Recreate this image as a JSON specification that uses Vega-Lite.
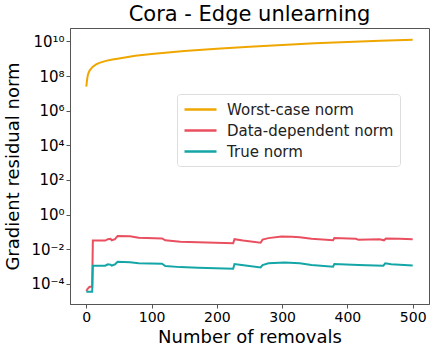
{
  "$schema": "https://vega.github.io/schema/vega-lite/v6.json",
  "width": 359,
  "height": 276,
  "autosize": "none",
  "padding": {"left": 70, "top": 28, "right": 7, "bottom": 45},
  "title": {"text": "Cora - Edge unlearning", "fontSize": 21, "font": "DejaVu Sans", "fontWeight": "normal", "color": "#000", "offset": 3},
  "config": {
    "font": "DejaVu Sans",
    "view": {"stroke": "#555", "strokeWidth": 1},
    "axis": {"grid": false, "domainColor": "#555", "tickColor": "#555", "labelColor": "#000", "titleColor": "#000", "labelFont": "DejaVu Sans", "titleFont": "DejaVu Sans", "titleFontWeight": "normal"}
  },
  "data": {"values": [
    {"x": 0, "v": 2.5e7, "s": "Worst-case norm"},
    {"x": 1, "v": 5.5e7, "s": "Worst-case norm"},
    {"x": 2, "v": 1.0e8, "s": "Worst-case norm"},
    {"x": 3, "v": 1.4e8, "s": "Worst-case norm"},
    {"x": 5, "v": 2.1e8, "s": "Worst-case norm"},
    {"x": 8, "v": 2.9e8, "s": "Worst-case norm"},
    {"x": 10, "v": 3.5e8, "s": "Worst-case norm"},
    {"x": 15, "v": 4.7e8, "s": "Worst-case norm"},
    {"x": 20, "v": 5.8e8, "s": "Worst-case norm"},
    {"x": 30, "v": 7.6e8, "s": "Worst-case norm"},
    {"x": 40, "v": 9.0e8, "s": "Worst-case norm"},
    {"x": 50, "v": 1.05e9, "s": "Worst-case norm"},
    {"x": 75, "v": 1.5e9, "s": "Worst-case norm"},
    {"x": 100, "v": 1.9e9, "s": "Worst-case norm"},
    {"x": 150, "v": 2.8e9, "s": "Worst-case norm"},
    {"x": 200, "v": 3.8e9, "s": "Worst-case norm"},
    {"x": 250, "v": 5.0e9, "s": "Worst-case norm"},
    {"x": 300, "v": 6.3e9, "s": "Worst-case norm"},
    {"x": 350, "v": 7.8e9, "s": "Worst-case norm"},
    {"x": 400, "v": 9.3e9, "s": "Worst-case norm"},
    {"x": 450, "v": 1.1e10, "s": "Worst-case norm"},
    {"x": 500, "v": 1.27e10, "s": "Worst-case norm"},

    {"x": 0, "v": 3.9e-5, "s": "Data-dependent norm"},
    {"x": 2, "v": 5.2e-5, "s": "Data-dependent norm"},
    {"x": 5, "v": 6.8e-5, "s": "Data-dependent norm"},
    {"x": 9, "v": 6.8e-5, "s": "Data-dependent norm"},
    {"x": 10, "v": 0.0316, "s": "Data-dependent norm"},
    {"x": 29, "v": 0.0316, "s": "Data-dependent norm"},
    {"x": 33, "v": 0.038, "s": "Data-dependent norm"},
    {"x": 37, "v": 0.040, "s": "Data-dependent norm"},
    {"x": 39, "v": 0.033, "s": "Data-dependent norm"},
    {"x": 44, "v": 0.038, "s": "Data-dependent norm"},
    {"x": 48, "v": 0.059, "s": "Data-dependent norm"},
    {"x": 67, "v": 0.056, "s": "Data-dependent norm"},
    {"x": 80, "v": 0.046, "s": "Data-dependent norm"},
    {"x": 116, "v": 0.042, "s": "Data-dependent norm"},
    {"x": 121, "v": 0.033, "s": "Data-dependent norm"},
    {"x": 144, "v": 0.0275, "s": "Data-dependent norm"},
    {"x": 171, "v": 0.0257, "s": "Data-dependent norm"},
    {"x": 225, "v": 0.0224, "s": "Data-dependent norm"},
    {"x": 227, "v": 0.038, "s": "Data-dependent norm"},
    {"x": 240, "v": 0.0316, "s": "Data-dependent norm"},
    {"x": 267, "v": 0.024, "s": "Data-dependent norm"},
    {"x": 270, "v": 0.036, "s": "Data-dependent norm"},
    {"x": 279, "v": 0.044, "s": "Data-dependent norm"},
    {"x": 299, "v": 0.054, "s": "Data-dependent norm"},
    {"x": 315, "v": 0.052, "s": "Data-dependent norm"},
    {"x": 327, "v": 0.050, "s": "Data-dependent norm"},
    {"x": 345, "v": 0.040, "s": "Data-dependent norm"},
    {"x": 378, "v": 0.033, "s": "Data-dependent norm"},
    {"x": 380, "v": 0.044, "s": "Data-dependent norm"},
    {"x": 413, "v": 0.040, "s": "Data-dependent norm"},
    {"x": 417, "v": 0.035, "s": "Data-dependent norm"},
    {"x": 449, "v": 0.038, "s": "Data-dependent norm"},
    {"x": 456, "v": 0.033, "s": "Data-dependent norm"},
    {"x": 459, "v": 0.042, "s": "Data-dependent norm"},
    {"x": 480, "v": 0.040, "s": "Data-dependent norm"},
    {"x": 500, "v": 0.038, "s": "Data-dependent norm"},

    {"x": 0, "v": 3.5e-5, "s": "True norm"},
    {"x": 9, "v": 3.5e-5, "s": "True norm"},
    {"x": 10, "v": 0.00112, "s": "True norm"},
    {"x": 29, "v": 0.00112, "s": "True norm"},
    {"x": 33, "v": 0.00135, "s": "True norm"},
    {"x": 37, "v": 0.0013, "s": "True norm"},
    {"x": 39, "v": 0.00115, "s": "True norm"},
    {"x": 44, "v": 0.00135, "s": "True norm"},
    {"x": 48, "v": 0.0019, "s": "True norm"},
    {"x": 67, "v": 0.00178, "s": "True norm"},
    {"x": 80, "v": 0.00158, "s": "True norm"},
    {"x": 116, "v": 0.00145, "s": "True norm"},
    {"x": 121, "v": 0.00107, "s": "True norm"},
    {"x": 144, "v": 0.00093, "s": "True norm"},
    {"x": 171, "v": 0.00085, "s": "True norm"},
    {"x": 225, "v": 0.00074, "s": "True norm"},
    {"x": 227, "v": 0.0014, "s": "True norm"},
    {"x": 238, "v": 0.00123, "s": "True norm"},
    {"x": 267, "v": 0.00089, "s": "True norm"},
    {"x": 270, "v": 0.00123, "s": "True norm"},
    {"x": 279, "v": 0.00155, "s": "True norm"},
    {"x": 304, "v": 0.00174, "s": "True norm"},
    {"x": 327, "v": 0.00155, "s": "True norm"},
    {"x": 345, "v": 0.00123, "s": "True norm"},
    {"x": 378, "v": 0.00098, "s": "True norm"},
    {"x": 380, "v": 0.0014, "s": "True norm"},
    {"x": 417, "v": 0.00123, "s": "True norm"},
    {"x": 455, "v": 0.00112, "s": "True norm"},
    {"x": 458, "v": 0.00155, "s": "True norm"},
    {"x": 467, "v": 0.00135, "s": "True norm"},
    {"x": 500, "v": 0.00117, "s": "True norm"}
  ]},
  "mark": {"type": "line", "strokeWidth": 2},
  "encoding": {
    "x": {"field": "x", "type": "quantitative",
      "scale": {"domain": [-25, 525], "nice": false, "zero": false},
      "axis": {"values": [0, 100, 200, 300, 400, 500], "title": "Number of removals", "titleFontSize": 18, "labelFontSize": 14, "tickSize": 4, "labelPadding": 2, "titlePadding": 4, "labelFlush": false}},
    "y": {"field": "v", "type": "quantitative",
      "scale": {"type": "log", "domain": [6.9e-6, 6e10], "nice": false},
      "axis": {"values": [1e-4, 1e-2, 1, 100, 1e4, 1e6, 1e8, 1e10], "title": "Gradient residual norm", "titleFontSize": 18, "labelFontSize": 15, "tickSize": 4, "labelPadding": 2, "titlePadding": 8, "labelFlush": false,
        "labelExpr": "datum.value < 1e-3 ? '10⁻⁴' : datum.value < 0.1 ? '10⁻²' : datum.value < 10 ? '10⁰' : datum.value < 1000 ? '10²' : datum.value < 1e5 ? '10⁴' : datum.value < 1e7 ? '10⁶' : datum.value < 1e9 ? '10⁸' : '10¹⁰'"}},
    "color": {"field": "s", "type": "nominal",
      "scale": {"domain": ["Worst-case norm", "Data-dependent norm", "True norm"], "range": ["#efa700", "#ea4f5f", "#14a6a6"]},
      "legend": {"title": null, "orient": "none", "legendX": 107, "legendY": 66, "symbolType": "M-1,0H3", "symbolSize": 256, "symbolStrokeWidth": 2.5, "labelFontSize": 15, "labelFont": "DejaVu Sans", "labelColor": "#222", "labelOffset": 25, "labelLimit": 400, "padding": 6, "rowPadding": 3, "strokeColor": "#ddd", "cornerRadius": 3, "fillColor": "white"}}
  }
}
